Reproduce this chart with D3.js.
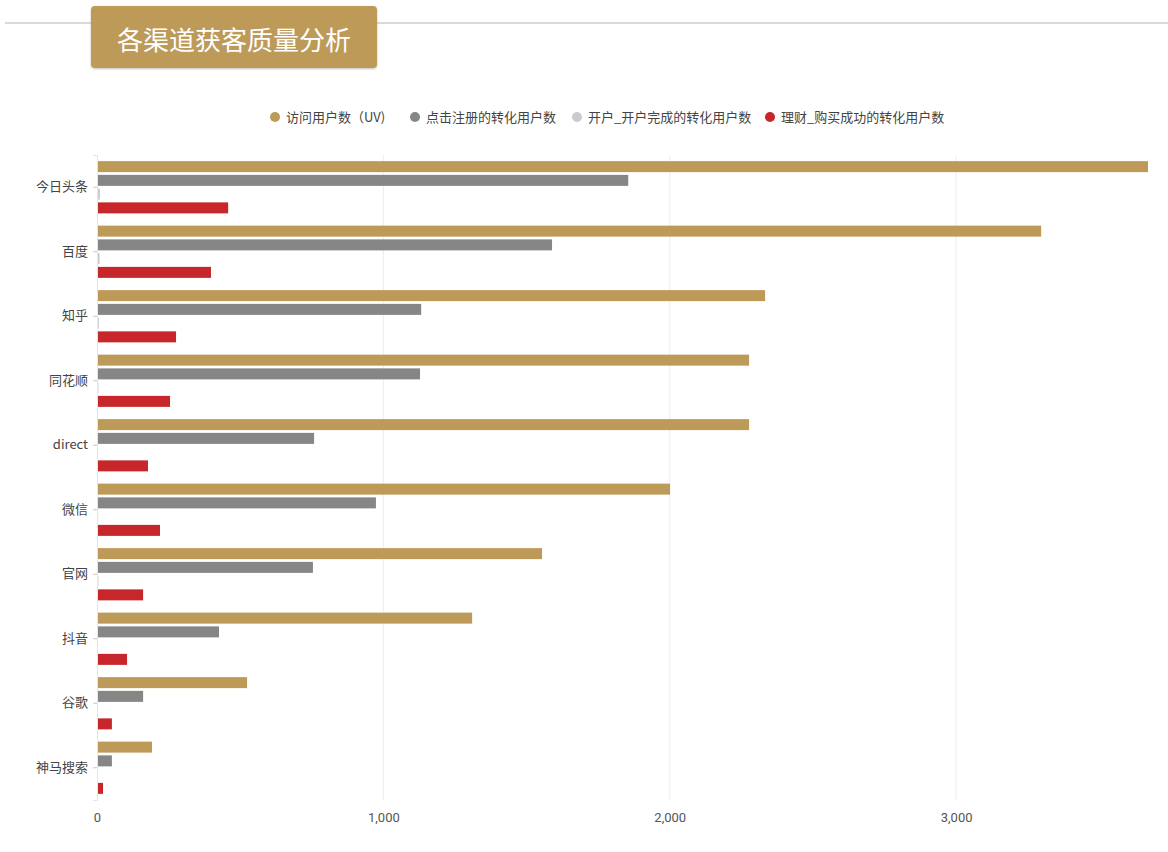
<!DOCTYPE html>
<html>
<head>
<meta charset="utf-8">
<script src="https://cdn.jsdelivr.net/npm/d3@7"></script>
<style>
  body { margin: 0; background: #fff; }
  svg { display: block; font-family: "Noto Sans CJK SC", "Noto Sans", sans-serif; }
</style>
</head>
<body>
<svg id="chart" width="1168" height="852"></svg>
<script>
var channels = ["今日头条", "百度", "知乎", "同花顺", "direct", "微信", "官网", "抖音", "谷歌", "神马搜索"];
var seriesNames = ["访问用户数（UV)", "点击注册的转化用户数", "开户_开户完成的转化用户数", "理财_购买成功的转化用户数"];
var seriesColors = ["#bd9a58", "#868686", "#cbcbcb", "#c7262b"];
var uv = [3670, 3297, 2333, 2277, 2277, 2001, 1554, 1310, 524, 192];
var clicks = [1855, 1589, 1132, 1128, 758, 974, 754, 426, 161, 52];
var accounts = [10, 9, 6, 5, 3, 4, 5, 2, 1, 0];
var purchases = [458, 398, 276, 255, 178, 220, 161, 105, 52, 21];
var xTicks = [0, 1000, 2000, 3000];

(function () {
  var allSeries = [uv, clicks, accounts, purchases];
  var svg = d3.select('#chart');

  // header line + title badge
  svg.append('line')
    .attr('x1', 5).attr('x2', 1168)
    .attr('y1', 23).attr('y2', 23)
    .attr('stroke', '#b5b5b5').attr('stroke-width', 1);
  var defs = svg.append('defs');
  var shadow = defs.append('filter').attr('id', 'shadow')
    .attr('x', '-10%').attr('y', '-20%').attr('width', '120%').attr('height', '150%');
  shadow.append('feDropShadow').attr('dx', 0).attr('dy', 1).attr('stdDeviation', 1.2)
    .attr('flood-color', '#000').attr('flood-opacity', 0.25);
  svg.append('rect')
    .attr('x', 91).attr('y', 6).attr('width', 286).attr('height', 62)
    .attr('rx', 4)
    .attr('fill', '#bd9a58')
    .attr('filter', 'url(#shadow)');
  svg.append('text')
    .text('各渠道获客质量分析')
    .attr('x', 234).attr('y', 38)
    .attr('text-anchor', 'middle')
    .attr('dominant-baseline', 'central')
    .attr('font-size', 26)
    .attr('fill', '#fff');

  // legend
  var legendX = [275, 415, 577, 770];
  var legend = svg.selectAll('.legend')
    .data(seriesNames)
    .enter()
    .append('g')
    .attr('class', 'legend')
    .attr('transform', function(d, i) {return 'translate(' + legendX[i] + ',117)';});
  legend.append('circle')
    .attr('r', 5)
    .attr('fill', function(d, i) {return seriesColors[i];});
  legend.append('text')
    .text(function(d) {return d;})
    .attr('x', 11)
    .attr('dy', '0.35em')
    .attr('font-size', 13)
    .attr('fill', '#444');

  // scales
  var plotLeft = 97, plotRight = 1148, plotTop = 155, plotBottom = 800;
  var x = d3.scaleLinear().domain([0, 3670]).range([plotLeft, plotRight]);
  var y = d3.scaleBand().domain(channels).range([plotTop, plotBottom]).paddingInner(0.19).paddingOuter(0.095);
  var yInner = d3.scaleBand().domain(d3.range(4)).range([0, y.bandwidth()]).paddingInner(0.2).paddingOuter(0);

  // grid
  svg.selectAll('.grid')
    .data(xTicks.slice(1))
    .enter()
    .append('line')
    .attr('class', 'grid')
    .attr('x1', function(d) {return x(d);})
    .attr('x2', function(d) {return x(d);})
    .attr('y1', plotTop)
    .attr('y2', plotBottom)
    .attr('stroke', '#ededed');

  // bars
  var groups = svg.selectAll('.group')
    .data(channels)
    .enter()
    .append('g')
    .attr('class', 'group')
    .attr('transform', function(d) {return 'translate(0,' + y(d) + ')';});
  groups.selectAll('rect')
    .data(function(d, ci) {return allSeries.map(function(s, si) {return {s: si, v: s[ci]};});})
    .enter()
    .append('rect')
    .attr('x', x(0))
    .attr('y', function(d) {return yInner(d.s);})
    .attr('height', yInner.bandwidth())
    .attr('width', function(d) {return Math.max(0, x(d.v) - x(0));})
    .attr('fill', function(d) {return seriesColors[d.s];});

  // y axis
  var yAxis = svg.append('g')
    .attr('transform', 'translate(' + plotLeft + ',0)')
    .call(d3.axisLeft(y).tickSize(4).tickPadding(5));
  yAxis.select('.domain').attr('stroke', '#e6e6e6');
  yAxis.selectAll('.tick line').attr('stroke', '#c8c8c8');
  yAxis.selectAll('.tick text')
    .attr('font-size', 13)
    .attr('fill', '#444')
    .attr('font-family', '"Noto Sans CJK SC", "Noto Sans", sans-serif');

  // x axis
  var xAxis = svg.append('g')
    .attr('transform', 'translate(0,' + (plotBottom + 8) + ')')
    .call(d3.axisBottom(x).tickValues(xTicks).tickSize(0).tickPadding(5).tickFormat(d3.format(',')));
  xAxis.select('.domain').remove();
  xAxis.selectAll('.tick text')
    .attr('font-size', 13)
    .attr('fill', '#555')
    .attr('font-family', 'Roboto, "Noto Sans", sans-serif');
})();
</script>
</body>
</html>
